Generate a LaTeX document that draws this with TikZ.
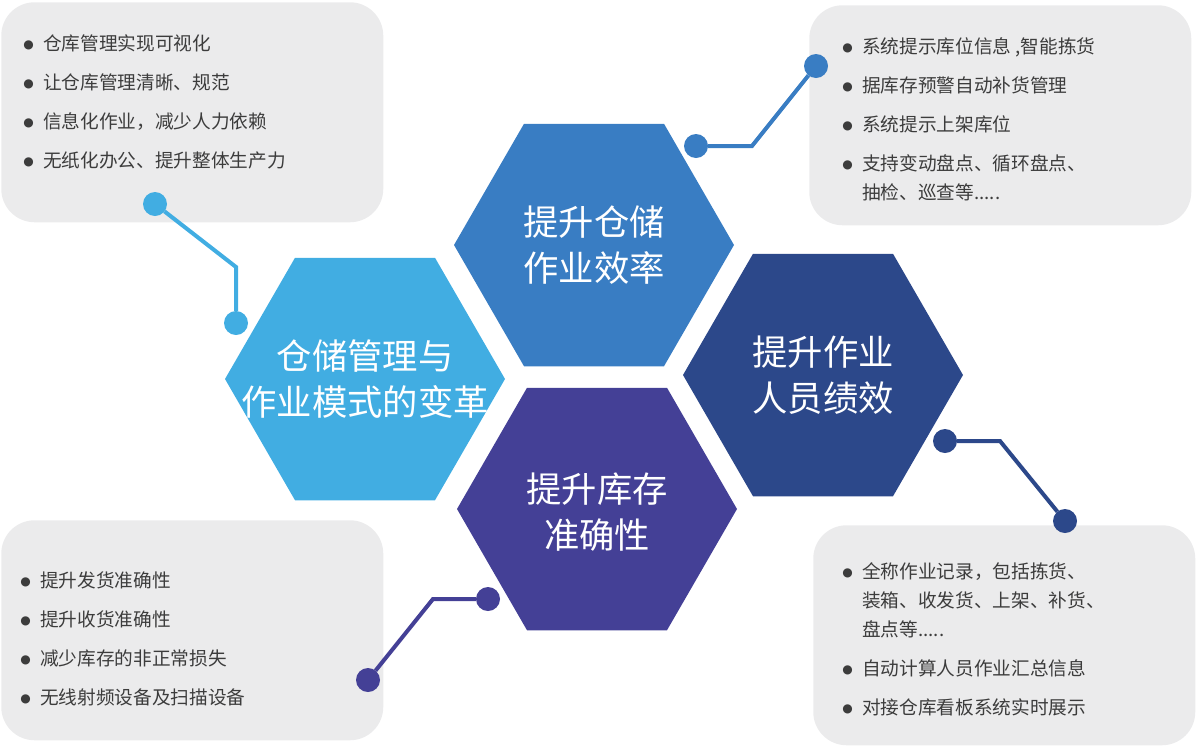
\documentclass[tikz,border=0pt]{standalone}
\usepackage{fontspec}
\setmainfont{Noto Sans CJK SC}
\newfontfamily\symfont{DejaVu Sans}
\usepackage{tikz}
\usetikzlibrary{shapes.geometric}
\definecolor{hexsky}{RGB}{65,173,226}
\definecolor{hexblue}{RGB}{57,125,195}
\definecolor{hexnavy}{RGB}{44,72,138}
\definecolor{hexviolet}{RGB}{68,64,150}
\definecolor{boxgray}{RGB}{235,235,236}
\definecolor{textgray}{RGB}{60,60,60}
\newcommand{\bul}{{\symfont\fontsize{9pt}{9pt}\selectfont\raisebox{1.2pt}{●}}}
\newcommand{\itm}[1]{\llap{\bul\hspace{7pt}}#1}
\tikzset{
    hexcell/.style={regular polygon, regular polygon sides=6, minimum size=210pt,
        inner sep=0pt, outer sep=0pt, fill=#1},
    hextext/.style={text=white, align=center, inner sep=0pt,
        font=\fontsize{26.5pt}{34.5pt}\selectfont},
    infobox/.style={rectangle, rounded corners=25pt, fill=boxgray, inner sep=0pt,
        minimum width=286.5pt, minimum height=165pt, anchor=north west},
    infotext/.style={text=textgray, align=left, anchor=north west, inner sep=0pt,
        font=\fontsize{14pt}{21.75pt}\selectfont},
    pin/.style={circle, fill=#1, minimum size=18pt, inner sep=0pt, outer sep=0pt},
    link/.style={draw=#1, line width=3pt},
}
\begin{document}
\begin{tikzpicture}[x=0.75pt, y=-0.75pt]
    \useasboundingbox (0,0) rectangle (1197,747);

    \node[infobox] (boxtl) at (1,2) {};
    \node[infobox] (boxtr) at (809,5) {};
    \node[infobox] (boxbl) at (1,520) {};
    \node[infobox] (boxbr) at (813,525) {};

    \node[infotext] (texttl) at (43,34) {\itm{仓库管理实现可视化}\\[7.5pt]
        \itm{让仓库管理清晰、规范}\\[7.5pt]
        \itm{信息化作业，减少人力依赖}\\[7.5pt]
        \itm{无纸化办公、提升整体生产力}};
    \node[infotext] (texttr) at (862,37) {\itm{系统提示库位信息 ,智能拣货}\\[7.5pt]
        \itm{据库存预警自动补货管理}\\[7.5pt]
        \itm{系统提示上架库位}\\[7.5pt]
        \itm{支持变动盘点、循环盘点、}\\
        抽检、巡查等.....};
    \node[infotext] (textbl) at (40,571) {\itm{提升发货准确性}\\[7.5pt]
        \itm{提升收货准确性}\\[7.5pt]
        \itm{减少库存的非正常损失}\\[7.5pt]
        \itm{无线射频设备及扫描设备}};
    \node[infotext] (textbr) at (862,562) {\itm{全称作业记录，包括拣货、}\\
        装箱、收发货、上架、补货、\\
        盘点等.....\\[7.5pt]
        \itm{自动计算人员作业汇总信息}\\[7.5pt]
        \itm{对接仓库看板系统实时展示}};

    \node[hexcell=hexsky] (hexmode) at (365,379) {};
    \node[hexcell=hexblue] (hexspeed) at (594,245) {};
    \node[hexcell=hexnavy] (hexstaff) at (823,375) {};
    \node[hexcell=hexviolet] (hexstock) at (597,509) {};

    \node[hextext] (labelmode) at (hexmode) {仓储管理与\\作业模式的变革};
    \node[hextext] (labelspeed) at (hexspeed) {提升仓储\\作业效率};
    \node[hextext] (labelstaff) at (hexstaff) {提升作业\\人员绩效};
    \node[hextext] (labelstock) at (597,512) {提升库存\\准确性};

    \node[pin=hexsky] (pintlbox) at (155,204) {};
    \node[pin=hexsky] (pintlhex) at (236,323) {};
    \coordinate (bendtl) at (236,267);
    \draw[link=hexsky] (pintlbox) -- (bendtl) -- (pintlhex);

    \node[pin=hexblue] (pintrbox) at (816,66) {};
    \node[pin=hexblue] (pintrhex) at (696,146) {};
    \coordinate (bendtr) at (752,146);
    \draw[link=hexblue] (pintrbox) -- (bendtr) -- (pintrhex);

    \node[pin=hexnavy] (pinbrhex) at (945,441) {};
    \node[pin=hexnavy] (pinbrbox) at (1065,521) {};
    \coordinate (bendbr) at (1000,441);
    \draw[link=hexnavy] (pinbrhex) -- (bendbr) -- (pinbrbox);

    \node[pin=hexviolet] (pinblhex) at (488,599) {};
    \node[pin=hexviolet] (pinblbox) at (368,680) {};
    \coordinate (bendbl) at (433,599);
    \draw[link=hexviolet] (pinblhex) -- (bendbl) -- (pinblbox);
\end{tikzpicture}
\end{document}
